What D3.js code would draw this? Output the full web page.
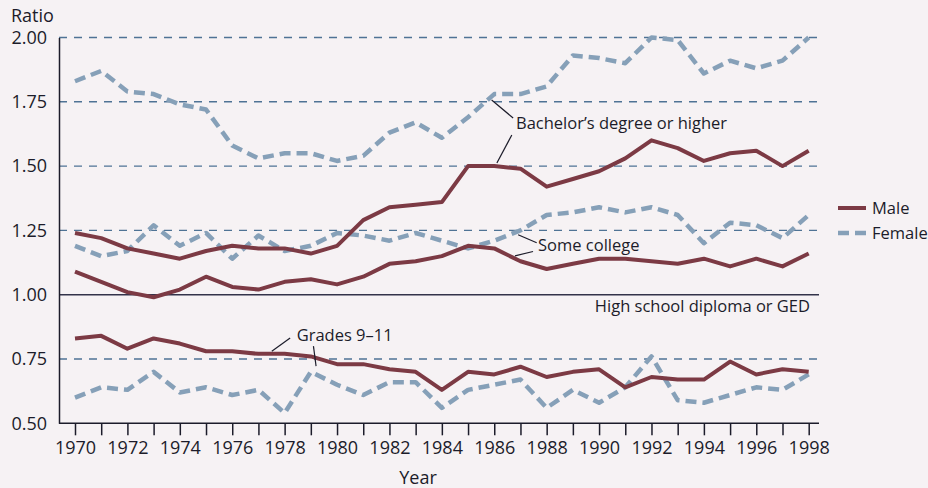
<!DOCTYPE html>
<html>
<head>
<meta charset="utf-8">
<style>
  body { margin: 0; background: #f6f2f4; }
  text { font-family: "Open Sans", sans-serif; fill: #1c1c2a; }
</style>
</head>
<body>
<script src="https://cdn.jsdelivr.net/npm/d3@7"></script>
<script>
// years 1970..1998
var years = d3.range(1970, 1999);

// ratio to high school diploma or GED
var bachMale   = [1.24,1.22,1.18,1.16,1.14,1.17,1.19,1.18,1.18,1.16,1.19,1.29,1.34,1.35,1.36,1.50,1.50,1.49,1.42,1.45,1.48,1.53,1.60,1.57,1.52,1.55,1.56,1.50,1.56];
var bachFemale = [1.83,1.87,1.79,1.78,1.74,1.72,1.58,1.53,1.55,1.55,1.52,1.54,1.63,1.67,1.61,1.69,1.78,1.78,1.81,1.93,1.92,1.90,2.00,1.99,1.86,1.91,1.88,1.91,2.00];
var someMale   = [1.09,1.05,1.01,0.99,1.02,1.07,1.03,1.02,1.05,1.06,1.04,1.07,1.12,1.13,1.15,1.19,1.18,1.13,1.10,1.12,1.14,1.14,1.13,1.12,1.14,1.11,1.14,1.11,1.16];
var someFemale = [1.19,1.15,1.17,1.27,1.19,1.24,1.14,1.23,1.17,1.19,1.24,1.23,1.21,1.24,1.21,1.18,1.21,1.25,1.31,1.32,1.34,1.32,1.34,1.31,1.20,1.28,1.27,1.22,1.31];
var gradMale   = [0.83,0.84,0.79,0.83,0.81,0.78,0.78,0.77,0.77,0.76,0.73,0.73,0.71,0.70,0.63,0.70,0.69,0.72,0.68,0.70,0.71,0.64,0.68,0.67,0.67,0.74,0.69,0.71,0.70];
var gradFemale = [0.60,0.64,0.63,0.70,0.62,0.64,0.61,0.63,0.54,0.70,0.65,0.61,0.66,0.66,0.56,0.63,0.65,0.67,0.56,0.63,0.58,0.64,0.76,0.59,0.58,0.61,0.64,0.63,0.69];

var yTicks = [0.50, 0.75, 1.00, 1.25, 1.50, 1.75, 2.00];
var gridTicks = [0.75, 1.25, 1.50, 1.75, 2.00];

var W = 928, H = 488;
var maleColor = "#7c3a44", femaleColor = "#86a0b8", gridColor = "#4f7395";

var svg = d3.select("body").append("svg")
  .attr("width", W).attr("height", H)
  .style("display", "block");

svg.append("rect").attr("width", W).attr("height", H).attr("fill", "#f6f2f4");

var x = d3.scaleLinear().domain([1970, 1998]).range([75, 808.7]);
var y = d3.scaleLinear().domain([0.5, 2.0]).range([423.3, 37.5]);
var xLeft = 59, xRight = 819;

// dashed gridlines
svg.selectAll(".grid").data(gridTicks).enter().append("line")
  .attr("x1", xLeft).attr("x2", xRight)
  .attr("y1", d => y(d)).attr("y2", d => y(d))
  .attr("stroke", gridColor).attr("stroke-width", 1.4)
  .attr("stroke-dasharray", "8,7");

// baseline 1.00 (high school)
svg.append("line")
  .attr("x1", xLeft).attr("x2", xRight)
  .attr("y1", y(1)).attr("y2", y(1))
  .attr("stroke", "#33334a").attr("stroke-width", 1.5);

// y axis
var yAxis = svg.append("g").attr("transform", "translate(" + xLeft + ",0)")
  .call(d3.axisLeft(y).tickValues(yTicks).tickSize(0).tickPadding(12).tickFormat(d3.format(".2f")));
yAxis.select(".domain").attr("stroke", "#1c1c2a").attr("stroke-width", 1.5);
yAxis.selectAll("text").style("font-size", "18px").attr("font-family", null);

// x axis
var xAxis = svg.append("g").attr("transform", "translate(0," + y(0.5) + ")")
  .call(d3.axisBottom(x).tickValues(years).tickSize(12).tickPadding(6)
    .tickFormat(d => d % 2 === 0 ? d : ""));
xAxis.select(".domain").attr("d", "M" + xLeft + ",0H" + xRight).attr("stroke", "#1c1c2a").attr("stroke-width", 1.5);
xAxis.selectAll(".tick line").attr("stroke", "#1c1c2a").attr("stroke-width", 1.5);
xAxis.selectAll("text").style("font-size", "18px").attr("font-family", null);

svg.append("text").attr("x", 11).attr("y", 22).style("font-size", "18px").text("Ratio");
svg.append("text").attr("x", 418).attr("y", 484).attr("text-anchor", "middle").style("font-size", "18px").text("Year");

var line = d3.line().x((d, i) => x(years[i])).y(d => y(d));

var series = [
  { v: bachFemale, sex: "F" }, { v: someFemale, sex: "F" }, { v: gradFemale, sex: "F" },
  { v: bachMale, sex: "M" }, { v: someMale, sex: "M" }, { v: gradMale, sex: "M" }
];

svg.selectAll(".series").data(series).enter().append("path")
  .attr("d", d => line(d.v))
  .attr("fill", "none")
  .attr("stroke", d => d.sex === "M" ? maleColor : femaleColor)
  .attr("stroke-width", d => d.sex === "M" ? 4 : 4.5)
  .attr("stroke-dasharray", d => d.sex === "M" ? null : "11,6")
  .attr("stroke-linejoin", "round");

// annotations (data coordinates)
var labels = [
  { t: "Bachelor\u2019s degree or higher", yr: 1986.83, v: 1.667, anchor: "start" },
  { t: "Some college", yr: 1987.67, v: 1.194, anchor: "start" },
  { t: "High school diploma or GED", yr: 1998.05, v: 0.957, anchor: "end" },
  { t: "Grades 9\u201311", yr: 1978.46, v: 0.841, anchor: "start" }
];
var leaders = [
  [1985.9, 1.757, 1986.72, 1.687], [1986.1, 1.512, 1986.67, 1.621],
  [1986.91, 1.233, 1987.62, 1.202], [1986.79, 1.151, 1987.48, 1.168],
  [1977.51, 0.78, 1978.21, 0.832], [1979.1, 0.80, 1979.2, 0.722]
];

svg.selectAll(".lab").data(labels).enter().append("text")
  .attr("x", d => x(d.yr)).attr("y", d => y(d.v))
  .attr("dy", "0.35em")
  .attr("text-anchor", d => d.anchor)
  .style("font-size", "16.5px")
  .text(d => d.t);

svg.selectAll(".lead").data(leaders).enter().append("line")
  .attr("x1", d => x(d[0])).attr("y1", d => y(d[1]))
  .attr("x2", d => x(d[2])).attr("y2", d => y(d[3]))
  .attr("stroke", "#1c1c2a").attr("stroke-width", 1.2);

// legend
var legend = [{ t: "Male", sex: "M" }, { t: "Female", sex: "F" }];
var lg = svg.selectAll(".leg").data(legend).enter().append("g")
  .attr("transform", (d, i) => "translate(838," + (208 + i * 25) + ")");
lg.append("line").attr("x1", 0).attr("x2", 28)
  .attr("stroke", d => d.sex === "M" ? maleColor : femaleColor)
  .attr("stroke-width", d => d.sex === "M" ? 4 : 4.5)
  .attr("stroke-dasharray", d => d.sex === "M" ? null : "11,6");
lg.append("text").attr("x", 34).attr("dy", "0.35em").style("font-size", "16.5px").text(d => d.t);
</script>
</body>
</html>
